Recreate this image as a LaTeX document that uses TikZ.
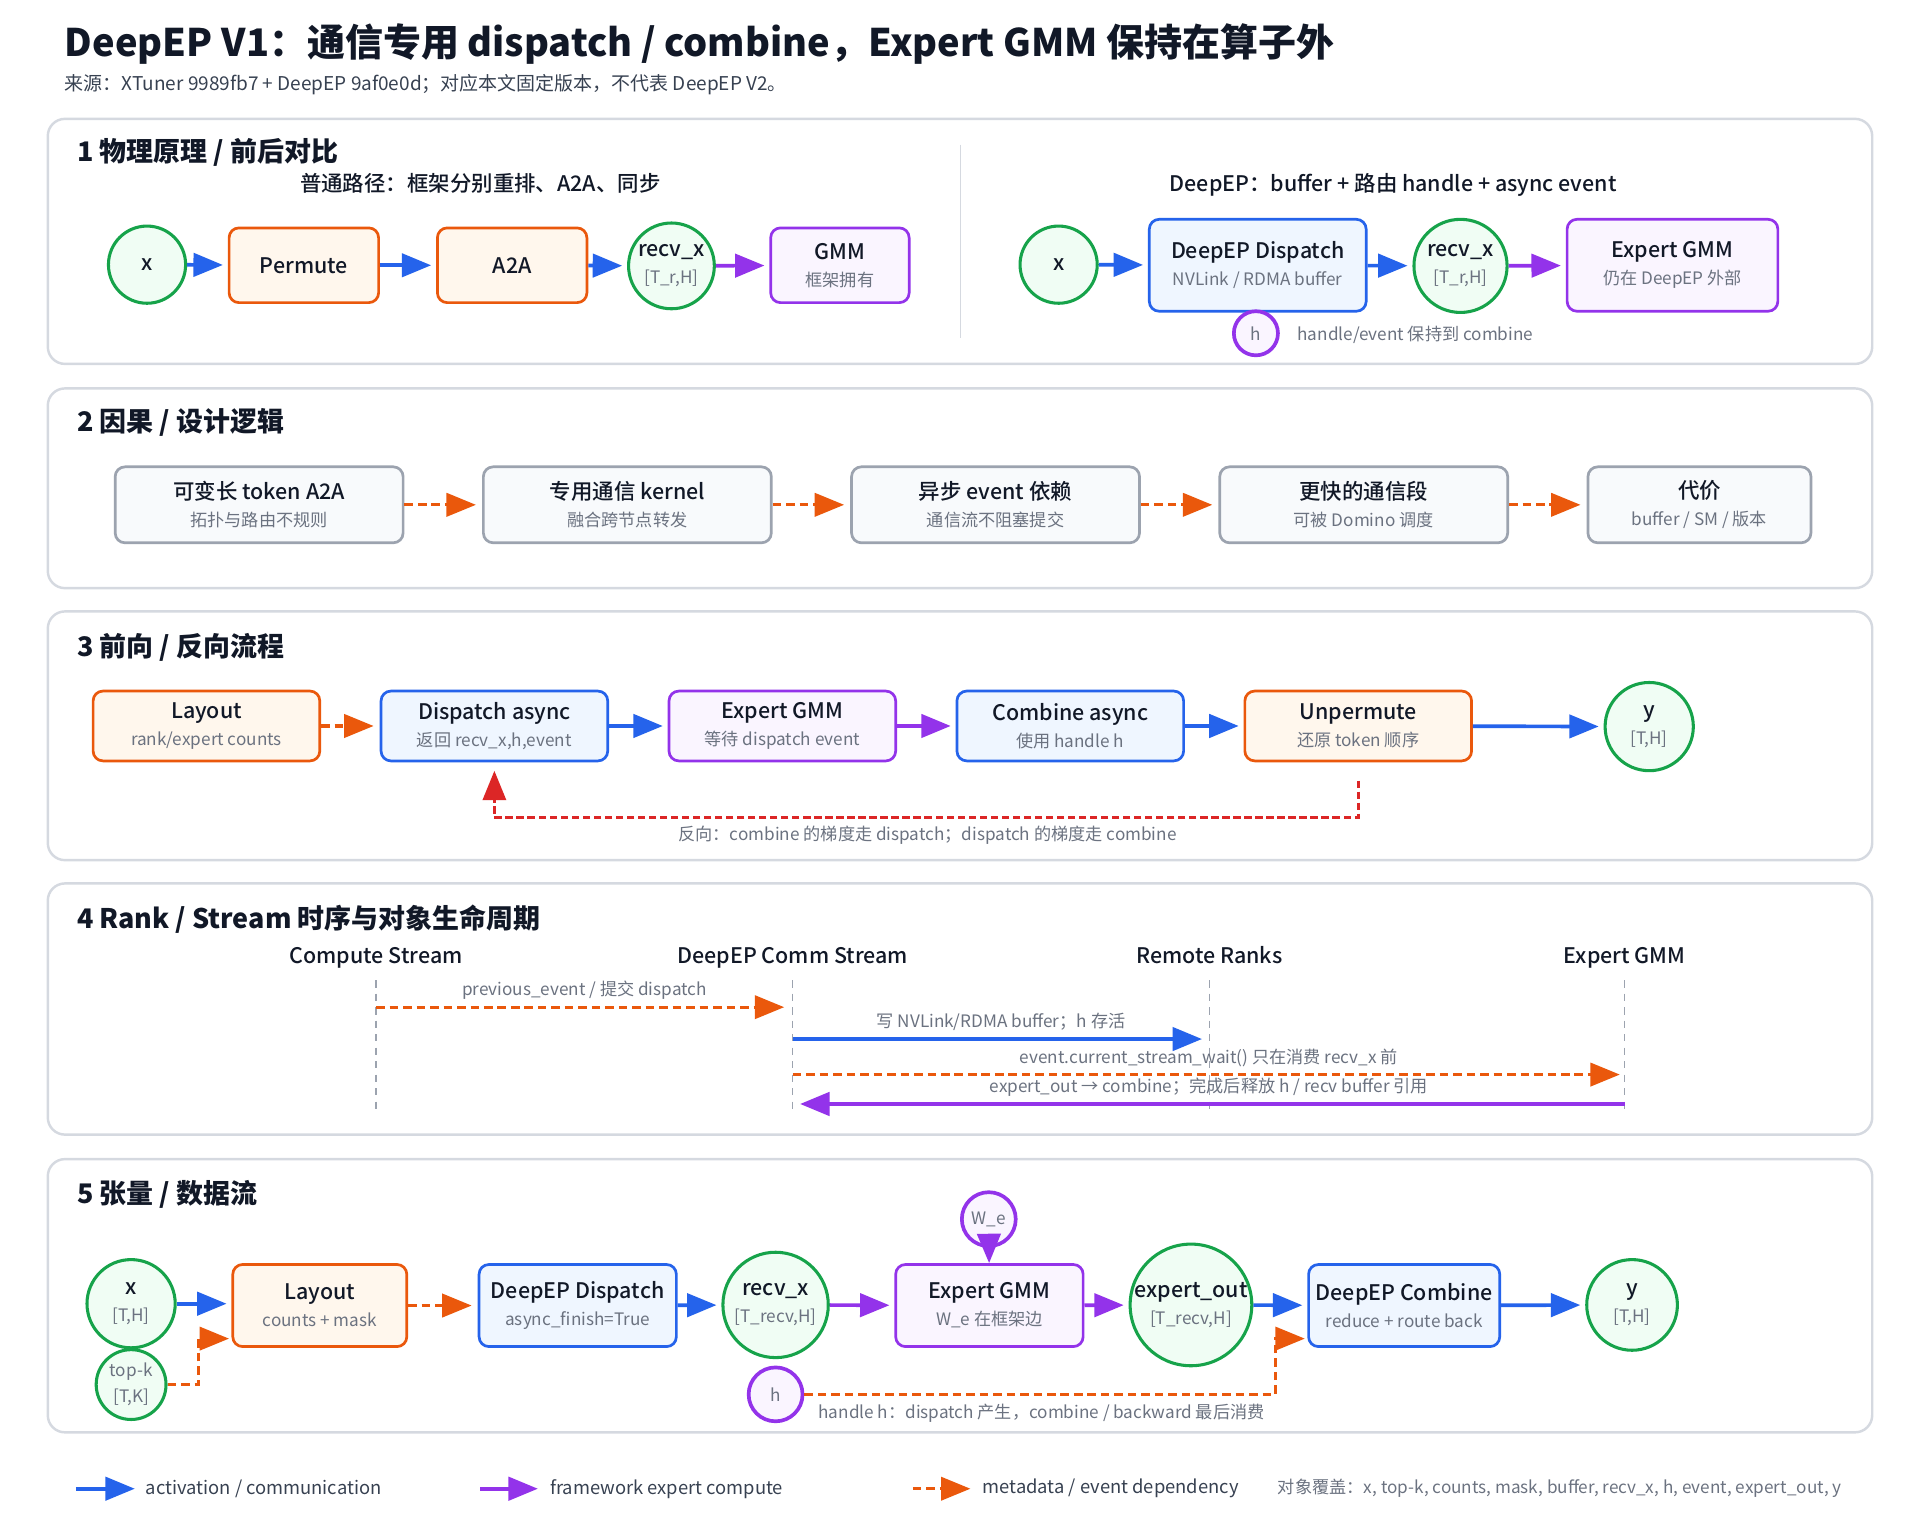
\documentclass[tikz,border=0pt]{standalone}
\usepackage{fontspec}
\setmainfont{Noto Sans CJK SC}
\newfontfamily\semifont{Noto Sans CJK SC Medium}
\usepackage{tikz}
\usetikzlibrary{arrows.meta,calc}
\definecolor{ink}{HTML}{111827}
\definecolor{subgray}{HTML}{6B7280}
\definecolor{legendgray}{HTML}{374151}
\definecolor{panelline}{HTML}{D5D9E0}
\definecolor{greenline}{HTML}{16A34A}
\definecolor{greenfill}{HTML}{F0FDF4}
\definecolor{orangeline}{HTML}{EA580C}
\definecolor{orangefill}{HTML}{FFF7ED}
\definecolor{blueline}{HTML}{2563EB}
\definecolor{bluefill}{HTML}{EFF6FF}
\definecolor{purpleline}{HTML}{9333EA}
\definecolor{purplefill}{HTML}{FAF5FF}
\definecolor{grayline}{HTML}{9CA3AF}
\definecolor{grayfill}{HTML}{F8FAFC}
\definecolor{redline}{HTML}{DC2626}
\newcommand{\nodetwo}[2]{{\fontsize{17.5}{21}\selectfont\semifont #1}\\[5pt]{\color{subgray}#2}}

\begin{document}
\begin{tikzpicture}[x=1pt, y=-1pt, line width=2pt,
    every node/.style={text=ink},
    panel/.style={draw=panelline, fill=white, rounded corners=14pt, line width=2pt},
    sect/.style={anchor=west, inner xsep=0pt, font=\fontsize{22}{26}\selectfont\bfseries},
    head/.style={text height=13pt, text depth=4pt, font=\fontsize{17.5}{21}\selectfont\semifont},
    note/.style={font=\fontsize{14}{17}\selectfont, text=subgray},
    box/.style={rectangle, rounded corners=8pt, line width=2.2pt, align=center, inner sep=0pt, font=\fontsize{14}{17}\selectfont},
    gbox/.style={box, draw=grayline, fill=grayfill},
    obox/.style={box, draw=orangeline, fill=orangefill},
    bbox/.style={box, draw=blueline, fill=bluefill},
    pbox/.style={box, draw=purpleline, fill=purplefill},
    tensor/.style={circle, draw=greenline, fill=greenfill, line width=2.5pt, inner sep=0pt, align=center, font=\fontsize{14}{17}\selectfont},
    handle/.style={circle, draw=purpleline, fill=purplefill, line width=3pt, inner sep=0pt, text=subgray, font=\fontsize{14}{17}\selectfont},
    bold/.style={font=\fontsize{17.5}{21}\selectfont\semifont},
    bigtri/.tip={Triangle[length=24pt, width=19pt]},
    act/.style={-bigtri, draw=blueline, line width=3pt, shorten >=4pt},
    comp/.style={-bigtri, draw=purpleline, line width=3pt, shorten >=4pt},
    meta/.style={-bigtri, draw=orangeline, line width=2.5pt, dash pattern=on 7pt off 4pt, shorten >=5pt},
    back/.style={-bigtri, draw=redline, line width=2.2pt, dash pattern=on 6pt off 3pt, shorten >=7pt},
    lane/.style={draw=grayline, line width=1.2pt, dash pattern=on 6pt off 5pt},
  ]
  \useasboundingbox (0,0) rectangle (1567,1253.6);

  \node[anchor=west, inner xsep=0pt, font=\fontsize{31}{36}\selectfont\bfseries] (title) at (52,36) {DeepEP V1：通信专用 dispatch / combine，Expert GMM 保持在算子外};
  \node[anchor=west, inner xsep=0pt, font=\fontsize{15.5}{18}\selectfont, text=legendgray] (source) at (52,69) {来源：XTuner 9989fb7 + DeepEP 9af0e0d；对应本文固定版本，不代表 DeepEP V2。};

  \draw[panel] (39,97) rectangle (1528,297);
  \draw[panel] (39,317) rectangle (1528,480);
  \draw[panel] (39,499) rectangle (1528,702);
  \draw[panel] (39,721) rectangle (1528,926);
  \draw[panel] (39,946) rectangle (1528,1169);

  % 1
  \node[sect] (s1) at (62,124) {1 物理原理 / 前后对比};
  \draw[draw=panelline, line width=1.2pt] (784,118) -- (784,276);
  \node[head] (plainhead) at (392,152) {普通路径：框架分别重排、A2A、同步};
  \node[head] (deephead) at (1137,152) {DeepEP：buffer + 路由 handle + async event};

  \node[tensor, bold, minimum size=63pt] (px) at (120,216) {x};
  \node[obox, bold, minimum width=122pt, minimum height=61pt] (permute) at (248,216.5) {Permute};
  \node[obox, bold, minimum width=122pt, minimum height=61pt] (pa2a) at (418,216.5) {A2A};
  \node[tensor, minimum size=70pt] (precv) at (548,217) {\nodetwo{recv\_x}{[T\_r,H]}};
  \node[pbox, minimum width=113pt, minimum height=61pt] (pgmm) at (685.5,216.5) {\nodetwo{GMM}{框架拥有}};
  \draw[act] (px) -- (permute);
  \draw[act] (permute) -- (pa2a);
  \draw[act] (pa2a) -- (precv);
  \draw[comp] (precv) -- (pgmm);

  \node[tensor, bold, minimum size=63pt] (dx) at (864,216) {x};
  \node[bbox, minimum width=177pt, minimum height=75pt] (ddisp) at (1026.5,216.5) {\nodetwo{DeepEP Dispatch}{NVLink / RDMA buffer}};
  \node[tensor, minimum size=76pt] (drecv) at (1192,217) {\nodetwo{recv\_x}{[T\_r,H]}};
  \node[pbox, minimum width=172pt, minimum height=75pt] (dgmm) at (1365,216.5) {\nodetwo{Expert GMM}{仍在 DeepEP 外部}};
  \node[handle, minimum size=36pt] (dh) at (1025,272) {h};
  \node[note, anchor=west, inner xsep=0pt] (dhnote) at (1058,273) {handle/event 保持到 combine};
  \draw[act] (dx) -- (ddisp);
  \draw[act] (ddisp) -- (drecv);
  \draw[comp] (drecv) -- (dgmm);

  % 2
  \node[sect] (s2) at (62,345) {2 因果 / 设计逻辑};
  \node[gbox, minimum width=235pt, minimum height=62pt] (c1) at (211.5,412) {\nodetwo{可变长 token A2A}{拓扑与路由不规则}};
  \node[gbox, minimum width=235pt, minimum height=62pt] (c2) at (512,412) {\nodetwo{专用通信 kernel}{融合跨节点转发}};
  \node[gbox, minimum width=235pt, minimum height=62pt] (c3) at (812.5,412) {\nodetwo{异步 event 依赖}{通信流不阻塞提交}};
  \node[gbox, minimum width=235pt, minimum height=62pt] (c4) at (1113,412) {\nodetwo{更快的通信段}{可被 Domino 调度}};
  \node[gbox, minimum width=182pt, minimum height=62pt] (c5) at (1387,412) {\nodetwo{代价}{buffer / SM / 版本}};
  \draw[meta] (c1) -- (c2);
  \draw[meta] (c2) -- (c3);
  \draw[meta] (c3) -- (c4);
  \draw[meta] (c4) -- (c5);

  % 3
  \node[sect] (s3) at (62,528) {3 前向 / 反向流程};
  \node[obox, minimum width=185pt, minimum height=57pt] (flay) at (168.5,592.5) {\nodetwo{Layout}{rank/expert counts}};
  \node[bbox, minimum width=185pt, minimum height=57pt] (fdisp) at (403.5,592.5) {\nodetwo{Dispatch async}{返回 recv\_x,h,event}};
  \node[pbox, minimum width=185pt, minimum height=57pt] (fgmm) at (638.5,592.5) {\nodetwo{Expert GMM}{等待 dispatch event}};
  \node[bbox, minimum width=185pt, minimum height=57pt] (fcomb) at (873.5,592.5) {\nodetwo{Combine async}{使用 handle h}};
  \node[obox, minimum width=185pt, minimum height=57pt] (funp) at (1108.5,592.5) {\nodetwo{Unpermute}{还原 token 顺序}};
  \node[tensor, minimum size=72pt] (fy) at (1346,593) {\nodetwo{y}{[T,H]}};
  \draw[meta] (flay) -- (fdisp);
  \draw[act] (fdisp) -- (fgmm);
  \draw[comp] (fgmm) -- (fcomb);
  \draw[act] (fcomb) -- (funp);
  \draw[act] (funp) -- (fy);
  \draw[back] ($(funp.south)+(0,15)$) |- ($(fdisp.south)+(0,45)$) -- (fdisp.south);
  \node[note] (fback) at (757,682) {反向：combine 的梯度走 dispatch；dispatch 的梯度走 combine};

  % 4
  \node[sect] (s4) at (62,750) {4 Rank / Stream 时序与对象生命周期};
  \node[head] (lcomp) at (307,782) {Compute Stream};
  \node[head] (lcomm) at (647,782) {DeepEP Comm Stream};
  \node[head] (lremote) at (987,782) {Remote Ranks};
  \node[head] (lgmm) at (1326,782) {Expert GMM};
  \draw[lane] ($(lcomp)+(0,18)$) -- ($(lcomp)+(0,124)$);
  \draw[lane] ($(lcomm)+(0,18)$) -- ($(lcomm)+(0,124)$);
  \draw[lane] ($(lremote)+(0,18)$) -- ($(lremote)+(0,124)$);
  \draw[lane] ($(lgmm)+(0,18)$) -- ($(lgmm)+(0,124)$);
  \draw[meta, shorten >=7pt] ($(lcomp)+(0,40)$) -- ($(lcomm)+(0,40)$) node[note, midway, above=2pt] {previous\_event / 提交 dispatch};
  \draw[act, shorten >=6pt] ($(lcomm)+(0,66)$) -- ($(lremote)+(0,66)$) node[note, midway, above=2pt] {写 NVLink/RDMA buffer；h 存活};
  \draw[meta, shorten >=4pt] ($(lcomm)+(0,95)$) -- ($(lgmm)+(0,95)$) node[note, midway, above=2pt] {event.current\_stream\_wait() 只在消费 recv\_x 前};
  \draw[comp, shorten >=6pt] ($(lgmm)+(0,119)$) -- ($(lcomm)+(0,119)$) node[note, midway, above=1pt] {expert\_out → combine；完成后释放 h / recv buffer 引用};

  % 5
  \node[sect] (s5) at (62,975) {5 张量 / 数据流};
  \node[tensor, minimum size=72pt] (tx) at (107,1064) {\nodetwo{x}{[T,H]}};
  \node[tensor, minimum size=57pt, text=subgray] (ttopk) at (107,1130) {top-k\\[4pt][T,K]};
  \node[obox, minimum width=142pt, minimum height=67pt] (tlay) at (261,1065.5) {\nodetwo{Layout}{counts + mask}};
  \node[bbox, minimum width=161pt, minimum height=67pt] (tdisp) at (471.5,1065.5) {\nodetwo{DeepEP Dispatch}{async\_finish=True}};
  \node[tensor, minimum size=86pt] (trecv) at (633,1065) {\nodetwo{recv\_x}{[T\_recv,H]}};
  \node[pbox, minimum width=153pt, minimum height=67pt] (tgmm) at (807.5,1065.5) {\nodetwo{Expert GMM}{W\_e 在框架边}};
  \node[handle, minimum size=44pt] (twe) at (807,995) {W\_e};
  \node[tensor, minimum size=86pt] (tout) at (972,1065) {\nodetwo{expert\_out}{[T\_recv,H]}};
  \node[bbox, minimum width=156pt, minimum height=67pt] (tcomb) at (1146,1065.5) {\nodetwo{DeepEP Combine}{reduce + route back}};
  \node[tensor, minimum size=74pt] (ty) at (1332,1065) {\nodetwo{y}{[T,H]}};
  \node[handle, minimum size=44pt] (th) at (633,1138) {h};
  \node[note, anchor=west, inner xsep=0pt] (thnote) at (667,1153) {handle h：dispatch 产生，combine / backward 最后消费};
  \draw[act] (tx) -- (tlay.west|-tx);
  \draw[meta] (tlay) -- (tdisp);
  \draw[act] (tdisp) -- (trecv);
  \draw[comp] (trecv) -- (tgmm);
  \draw[comp] (tgmm) -- (tout);
  \draw[act] (tout) -- (tcomb);
  \draw[act] (tcomb) -- (ty);
  \draw[comp, shorten >=0pt] (twe) -- (tgmm);
  \draw[meta, shorten >=2pt] (ttopk.east) -| ($(tlay.west)+(-27,27)$) -- ($(tlay.west)+(0,27)$);
  \draw[meta, shorten >=2pt] (th.east) -| ($(tcomb.west)+(-26,27)$) -- ($(tcomb.west)+(0,27)$);

  % legend
  \coordinate (k1a) at (62,1215);
  \coordinate (k1b) at (110,1215);
  \coordinate (k2a) at (392,1215);
  \coordinate (k2b) at (439,1215);
  \coordinate (k3a) at (745,1215);
  \coordinate (k3b) at (792,1215);
  \draw[act, shorten >=0pt] (k1a) -- (k1b);
  \draw[comp, shorten >=0pt] (k2a) -- (k2b);
  \draw[meta, shorten >=0pt] (k3a) -- (k3b);
  \node[anchor=west, inner xsep=0pt, font=\fontsize{15}{18}\selectfont, text=legendgray] (k1) at (118,1215) {activation / communication};
  \node[anchor=west, inner xsep=0pt, font=\fontsize{15}{18}\selectfont, text=legendgray] (k2) at (448,1215) {framework expert compute};
  \node[anchor=west, inner xsep=0pt, font=\fontsize{15}{18}\selectfont, text=legendgray] (k3) at (801,1215) {metadata / event dependency};
  \node[anchor=west, inner xsep=0pt, font=\fontsize{14}{17}\selectfont, text=subgray] (cover) at (1042,1215) {对象覆盖：x, top-k, counts, mask, buffer, recv\_x, h, event, expert\_out, y};
\end{tikzpicture}
\end{document}
